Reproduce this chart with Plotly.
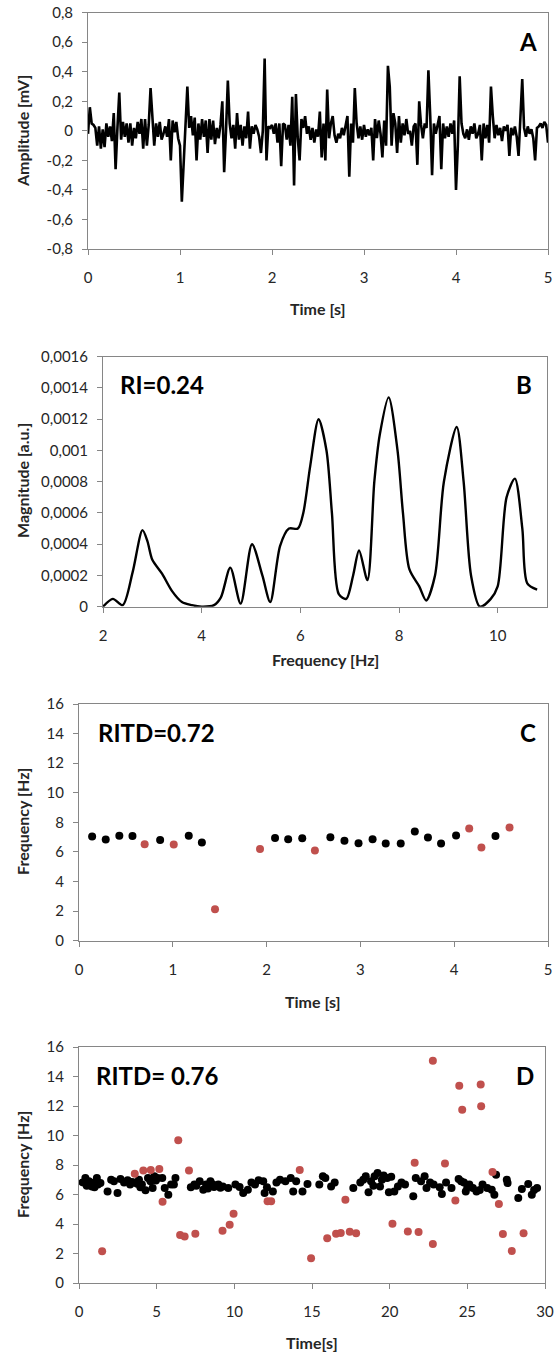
import plotly.graph_objects as go

W, H = 556, 1352
FONT = "Lato"

# ---------------- Panel A: raw signal ----------------
A_STEP = 0.02  # sample spacing [s]
a_amp = [
    -0.02, 0.16, 0.05, 0.04, 0.02, -0.10, 0.03, -0.12, 0.01, -0.11,
    0.05, -0.04, 0.03, -0.07, 0.12, -0.26, 0.02, 0.26, -0.06, 0.06,
    -0.04, 0.05, -0.08, 0.05, -0.10, 0.02, -0.05, 0.06, -0.02, 0.08,
    -0.12, 0.08, -0.10, 0.04, 0.29, 0.12, -0.10, 0.05, -0.04, 0.06,
    -0.06, -0.02, 0.03, -0.04, 0.08, -0.20, 0.07, -0.01, 0.06, -0.05,
    -0.10, -0.48, -0.25, 0.05, 0.30, 0.02, 0.10, -0.03, 0.09, -0.20,
    0.05, -0.06, 0.08, -0.04, 0.07, -0.15, 0.08, -0.06, 0.07, -0.09,
    0.02, -0.05, 0.04, 0.20, -0.28, 0.00, 0.34, 0.05, -0.05, 0.04,
    -0.12, 0.12, -0.06, 0.04, -0.10, 0.03, -0.05, 0.13, -0.12, 0.03,
    -0.02, 0.04, 0.01, -0.04, -0.15, 0.00, 0.49, -0.20, 0.03, 0.02,
    0.04, -0.02, 0.05, -0.08, 0.05, -0.24, 0.05, 0.04, -0.06, 0.04,
    -0.10, 0.23, -0.37, 0.25, -0.05, -0.20, 0.08, 0.02, 0.10, -0.02,
    0.03, -0.06, 0.02, -0.08, 0.01, -0.04, 0.13, -0.18, 0.05, -0.20,
    0.28, -0.05, 0.05, 0.10, -0.03, -0.08, -0.02, -0.05, 0.02, -0.03,
    0.05, 0.10, -0.31, 0.05, -0.08, 0.29, 0.05, -0.05, 0.03, -0.06,
    0.04, -0.04, 0.01, -0.03, 0.02, -0.20, 0.08, -0.05, 0.07, -0.02,
    -0.18, 0.07, -0.10, 0.44, 0.30, -0.10, 0.12, 0.05, -0.15, 0.10,
    -0.08, 0.05, -0.03, 0.08, -0.02, 0.00, -0.10, 0.03, 0.05, -0.23,
    0.20, 0.04, -0.05, 0.05, 0.02, 0.41, 0.10, -0.30, 0.05, -0.02,
    0.04, 0.10, -0.26, 0.05, -0.05, 0.03, -0.04, 0.05, -0.02, 0.07,
    -0.40, -0.10, 0.37, 0.05, -0.02, -0.05, 0.01, -0.06, 0.03, -0.02,
    0.05, -0.05, -0.02, 0.04, -0.20, 0.05, -0.05, 0.04, -0.08, 0.30,
    0.10, -0.05, 0.04, -0.03, 0.02, -0.07, 0.03, 0.00, 0.04, -0.17,
    0.02, -0.03, 0.03, -0.04, -0.17, 0.05, 0.35, 0.02, -0.04, 0.03,
    -0.02, 0.01, -0.05, -0.20, 0.02, 0.03, 0.05, 0.02, 0.06, 0.04,
    -0.08,
]
a_time = [round(i * A_STEP, 4) for i in range(len(a_amp))]
a_yticks = [-0.8, -0.6, -0.4, -0.2, 0, 0.2, 0.4, 0.6, 0.8]
a_yticktext = ["-0,8", "-0,6", "-0,4", "-0,2", "0", "0,2", "0,4", "0,6", "0,8"]
a_xticks = [0, 1, 2, 3, 4, 5]

# ---------------- Panel B: spectrum ----------------
b_freq = [2.0, 2.2, 2.4, 2.6, 2.8, 2.9, 3.0, 3.2, 3.4, 3.6, 3.8, 4.0, 4.25, 4.39,
          4.58, 4.79, 5.02, 5.23, 5.39, 5.59, 5.77, 5.95, 6.06, 6.2, 6.37, 6.53,
          6.64, 6.78, 6.93, 7.07, 7.19, 7.36, 7.5, 7.61, 7.79, 7.97, 8.08, 8.21,
          8.41, 8.55, 8.73, 8.91, 9.17, 9.31, 9.46, 9.64, 9.86, 10.0, 10.18,
          10.35, 10.5, 10.6, 10.8]
b_mag = [0.0, 0.00005, 0.00001, 0.00022, 0.00049, 0.00042, 0.0003, 0.00021,
         0.0001, 0.00003, 0.00001, 0.0, 0.00001, 0.00006, 0.00025, 0.00002,
         0.0004, 0.0002, 0.00003, 0.00039, 0.0005, 0.0005, 0.0006, 0.0009,
         0.0012, 0.001, 0.0006, 0.00008, 0.00005, 0.0002, 0.00036, 0.00017,
         0.0008, 0.0011, 0.00134, 0.001, 0.0006, 0.00024, 0.00013, 0.00004,
         0.0002, 0.0008, 0.00115, 0.0008, 0.0002, 0.0, 0.00005, 0.00013,
         0.0007, 0.00082, 0.0005, 0.00015, 0.00011]
b_yticks = [0, 0.0002, 0.0004, 0.0006, 0.0008, 0.001, 0.0012, 0.0014, 0.0016]
b_yticktext = ["0", "0,0002", "0,0004", "0,0006", "0,0008", "0,001", "0,0012",
               "0,0014", "0,0016"]
b_xticks = [2, 4, 6, 8, 10]

# ---------------- Panel C: 5 s time-frequency ----------------
c_black_t = [0.14, 0.285, 0.43, 0.57, 0.865, 1.17, 1.31, 2.09, 2.23, 2.38, 2.68,
             2.83, 2.98, 3.13, 3.27, 3.43, 3.58, 3.72, 3.86, 4.02, 4.44]
c_black_f = [7.04, 6.84, 7.1, 7.08, 6.8, 7.1, 6.64, 6.95, 6.86, 6.93, 7.0,
             6.75, 6.59, 6.86, 6.57, 6.57, 7.38, 6.98, 6.57, 7.11, 7.07]
c_red_t = [0.70, 1.01, 1.45, 1.93, 2.515, 4.16, 4.29, 4.59]
c_red_f = [6.52, 6.5, 2.12, 6.2, 6.09, 7.58, 6.3, 7.65]

# ---------------- Panel D: 30 s time-frequency ----------------
d_black_t = [0.23, 0.41, 0.64, 0.83, 0.99, 1.15, 1.22, 1.38, 1.84, 2.07, 2.25,
             2.48, 2.67, 2.9, 3.13, 3.29, 3.52, 3.75, 3.86, 4.05, 4.28, 4.44,
             4.6, 4.74, 4.85, 5.06, 5.36, 5.52, 5.75, 5.93, 6.11, 6.21, 7.2,
             7.43, 7.77, 8.0, 8.18, 8.46, 8.69, 8.97, 9.26, 9.61, 10.07, 10.34,
             10.57, 10.87, 11.1, 11.33, 11.56, 11.86, 11.95, 12.48, 12.71,
             12.94, 13.29, 13.63, 13.79, 13.98, 14.39, 14.71, 15.47, 15.7,
             15.86, 16.23, 16.46, 17.66, 18.11, 18.46, 18.64, 18.8, 19.03,
             19.22, 19.38, 19.61, 19.84, 19.95, 20.3, 20.53, 20.76, 20.99,
             21.52, 21.68, 22.02, 22.25, 22.37, 22.6, 22.83, 23.22, 23.36,
             23.63, 23.98, 24.44, 24.78, 24.9, 25.13, 25.36, 25.59, 25.98,
             26.28, 26.57, 26.74, 26.85, 27.54, 27.59, 28.28, 28.51, 28.92,
             29.15, 29.49,
             0.5, 1.0, 3.4, 3.95, 4.95, 7.55, 8.3, 8.6, 9.1, 12.1, 18.3, 18.95,
             19.5, 20.1, 24.6, 25.0, 25.8, 29.3]
d_black_f = [6.82, 7.12, 6.89, 6.55, 6.82, 7.12, 6.67, 6.78, 6.21, 7.0, 6.89,
             6.1, 7.05, 6.82, 6.96, 6.67, 6.82, 6.73, 7.0, 6.67, 6.28, 7.12,
             6.89, 6.44, 7.23, 7.12, 7.12, 6.44, 5.99, 6.67, 6.67, 7.12, 6.49,
             6.67, 6.89, 6.33, 6.67, 6.89, 6.51, 6.67, 6.55, 6.44, 6.67, 6.51,
             6.1, 6.33, 6.82, 6.67, 6.96, 6.89, 6.1, 6.21, 6.82, 7.0, 6.89,
             7.12, 6.21, 6.89, 6.21, 6.71, 6.67, 7.23, 7.12, 6.55, 6.82, 6.44,
             6.82, 7.23, 6.15, 6.89, 7.23, 7.46, 6.55, 7.28, 7.12, 6.15, 6.21,
             6.55, 6.82, 6.67, 5.88, 7.12, 6.89, 7.23, 6.44, 6.82, 6.67, 6.49,
             6.03, 6.82, 6.44, 7.05, 6.82, 6.21, 6.67, 6.44, 6.21, 6.67, 6.44,
             6.33, 5.99, 7.34, 7.0, 6.78, 5.76, 6.37, 6.71, 5.99, 6.44,
             6.6, 6.5, 6.85, 6.5, 6.95, 6.6, 6.4, 6.7, 6.45, 6.5, 7.0, 6.6,
             7.0, 7.2, 6.9, 6.5, 6.3, 6.3]
d_red_t = [1.49, 3.59, 4.14, 4.62, 5.17, 5.38, 6.39, 6.51, 6.80, 7.08, 7.49,
           9.24, 9.70, 9.95, 12.14, 12.37, 14.21, 14.94, 15.98, 16.55, 16.85,
           17.15, 17.43, 17.84, 20.18, 21.17, 21.61, 21.86, 22.78, 22.78, 23.56,
           24.23, 24.48, 24.67, 25.86, 25.89, 26.62, 27.03, 27.29, 27.86, 28.62]
d_red_f = [2.15, 7.41, 7.62, 7.66, 7.73, 5.51, 9.67, 3.25, 3.16, 7.62, 3.34,
           3.55, 3.95, 4.7, 5.54, 5.54, 7.66, 1.67, 3.03, 3.34, 3.39, 5.65,
           3.48, 3.37, 4.02, 3.5, 8.16, 3.46, 15.07, 2.64, 8.11, 5.6, 13.38,
           11.75, 13.45, 11.98, 7.53, 5.36, 3.32, 2.17, 3.37]
freq_ticks = [0, 2, 4, 6, 8, 10, 12, 14, 16]
c_xticks = [0, 1, 2, 3, 4, 5]
d_xticks = [0, 5, 10, 15, 20, 25, 30]

BLACK = "#000000"
RED = "#C0504D"
AXC = "#868686"


def px(xp):
    return xp / W


def py(yp):
    return 1 - yp / H


fig = go.Figure()
fig.add_trace(go.Scatter(x=a_time, y=a_amp, mode="lines",
                         line=dict(color=BLACK, width=2.6),
                         xaxis="x", yaxis="y", showlegend=False))
fig.add_trace(go.Scatter(x=b_freq, y=b_mag, mode="lines",
                         line=dict(color=BLACK, width=2.4, shape="spline", smoothing=0.8),
                         xaxis="x2", yaxis="y2", showlegend=False))
fig.add_trace(go.Scatter(x=c_black_t, y=c_black_f, mode="markers",
                         marker=dict(color=BLACK, size=8),
                         xaxis="x3", yaxis="y3", showlegend=False))
fig.add_trace(go.Scatter(x=c_red_t, y=c_red_f, mode="markers",
                         marker=dict(color=RED, size=8),
                         xaxis="x3", yaxis="y3", showlegend=False))
fig.add_trace(go.Scatter(x=d_black_t, y=d_black_f, mode="markers",
                         marker=dict(color=BLACK, size=8),
                         xaxis="x4", yaxis="y4", showlegend=False))
fig.add_trace(go.Scatter(x=d_red_t, y=d_red_f, mode="markers",
                         marker=dict(color=RED, size=8),
                         xaxis="x4", yaxis="y4", showlegend=False))

tickfont = dict(family=FONT, size=15, color="#262626")


def ax(domain, rng, tickvals, ticktext=None, anchor=None, standoff=0):
    d = dict(domain=domain, range=rng, tickvals=tickvals, showgrid=False,
             zeroline=False, showline=True, linecolor=AXC, linewidth=1,
             mirror=True, ticks="outside", ticklen=5, tickcolor=AXC,
             tickfont=tickfont, fixedrange=True, automargin=False,
             ticklabelstandoff=standoff)
    if ticktext is not None:
        d["ticktext"] = ticktext
    if anchor:
        d["anchor"] = anchor
    return d


panels = {
    "A": dict(l=88, r=548, t=12.7, b=249),
    "B": dict(l=103, r=547, t=356.7, b=606.7),
    "C": dict(l=79, r=548, t=704, b=940.7),
    "D": dict(l=79, r=545, t=1047, b=1283),
}


def dom_x(p):
    return [px(p["l"]), px(p["r"])]


def dom_y(p):
    return [py(p["b"]), py(p["t"])]


XS, YS = 10, 6
fig.update_layout(
    width=W, height=H,
    margin=dict(l=0, r=0, t=0, b=0, pad=0),
    paper_bgcolor="white", plot_bgcolor="white",
    font=dict(family=FONT),
    xaxis=ax(dom_x(panels["A"]), [0, 5], a_xticks, anchor="y", standoff=XS),
    yaxis=ax(dom_y(panels["A"]), [-0.8, 0.8], a_yticks, a_yticktext, anchor="x", standoff=YS),
    xaxis2=ax(dom_x(panels["B"]), [2, 11], b_xticks, anchor="y2", standoff=XS),
    yaxis2=ax(dom_y(panels["B"]), [0, 0.0016], b_yticks, b_yticktext, anchor="x2", standoff=YS),
    xaxis3=ax(dom_x(panels["C"]), [0, 5], c_xticks, anchor="y3", standoff=XS),
    yaxis3=ax(dom_y(panels["C"]), [0, 16], freq_ticks, anchor="x3", standoff=YS),
    xaxis4=ax(dom_x(panels["D"]), [0, 30], d_xticks, anchor="y4", standoff=XS),
    yaxis4=ax(dom_y(panels["D"]), [0, 16], freq_ticks, anchor="x4", standoff=YS),
)

TITLE = dict(family=FONT, size=16, color="#262626")
BIG = dict(family=FONT, size=24, color="#000000")
annots = [
    # axis titles
    ("Amplitude [mV]", 22, 131, -90, TITLE, "center"),
    ("Time [s]", 318, 309, 0, TITLE, "center"),
    ("Magnitude [a.u.]", 22, 481, -90, TITLE, "center"),
    ("Frequency [Hz]", 325, 659, 0, TITLE, "center"),
    ("Frequency [Hz]", 22, 822, -90, TITLE, "center"),
    ("Time [s]", 313, 1002, 0, TITLE, "center"),
    ("Frequency [Hz]", 22, 1165, -90, TITLE, "center"),
    ("Time[s]", 312, 1342, 0, TITLE, "center"),
    # panel labels
    ("A", 528, 42, 0, BIG, "center"),
    ("B", 524, 385, 0, BIG, "center"),
    ("RI=0.24", 118, 385, 0, BIG, "left"),
    ("C", 528, 732, 0, BIG, "center"),
    ("RITD=0.72", 96, 732, 0, BIG, "left"),
    ("D", 525, 1075, 0, BIG, "center"),
    ("RITD= 0.76", 94, 1075, 0, BIG, "left"),
]
for text, x, y, ang, f, xa in annots:
    fig.add_annotation(text="<b>%s</b>" % text, x=px(x), y=py(y), xref="paper",
                       yref="paper", showarrow=False, textangle=ang, font=f,
                       xanchor=xa, yanchor="middle")

fig.write_html(
    "out.html",
    config={"displayModeBar": False, "staticPlot": True},
    post_script="document.body.style.margin='0';document.body.style.padding='0';"
                "document.documentElement.style.overflow='hidden';",
)
